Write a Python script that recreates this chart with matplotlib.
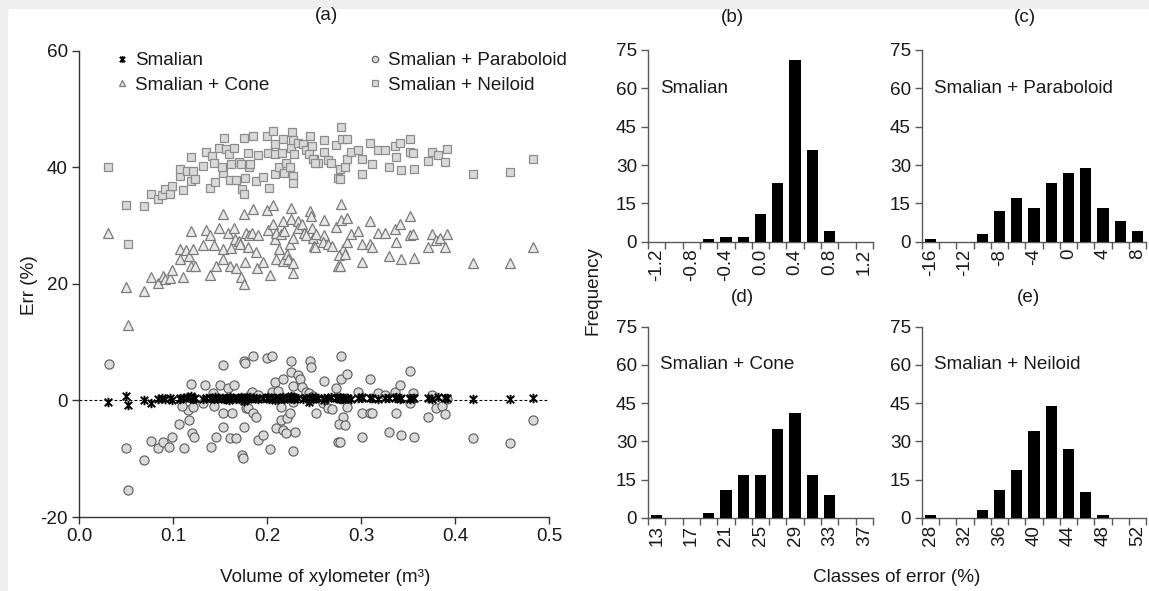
import numpy as np
import matplotlib
matplotlib.use("Agg")
import matplotlib.pyplot as plt
from matplotlib.path import Path
from matplotlib.patches import Rectangle

plt.rcParams['font.family'] = ['Liberation Sans', 'DejaVu Sans']
plt.rcParams['axes.unicode_minus'] = False

# ---------------- data: scatter (a) ----------------
neiloid_x = [0.031,0.050,0.052,0.069,0.077,0.084,0.088,0.092,0.097,0.099,0.107,0.107,0.111,0.115,0.119,0.121,0.119,0.139,0.123,0.132,
             0.135,0.142,0.144,0.149,0.145,0.153,0.154,0.152,0.156,0.160,0.162,0.165,0.161,0.167,0.170,0.173,0.175,0.177,0.176,0.172,
             0.180,0.181,0.185,0.190,0.188,0.182,0.196,0.200,0.202,0.206,0.201,0.209,0.209,0.209,0.213,0.216,0.217,0.218,0.220,0.224,
             0.226,0.227,0.228,0.229,0.228,0.228,0.233,0.238,0.242,0.246,0.248,0.245,0.250,0.254,0.249,0.251,0.261,0.261,0.265,0.268,
             0.273,0.279,0.280,0.285,0.278,0.276,0.278,0.283,0.285,0.289,0.297,0.301,0.301,0.310,0.312,0.318,0.326,0.330,0.336,0.337,
             0.342,0.343,0.352,0.352,0.355,0.356,0.371,0.376,0.382,0.389,0.392,0.419,0.458,0.483]
neiloid_y = [40.0,33.6,26.9,33.4,35.4,34.6,35.3,36.2,35.5,36.8,38.5,39.7,36.1,39.4,37.7,39.4,41.8,36.4,38.0,40.2,
             42.7,42.0,40.8,43.3,37.5,39.0,45.1,40.0,43.2,42.2,40.6,43.3,37.8,37.8,40.9,36.3,35.5,38.2,45.1,40.6,
             42.5,40.0,45.4,42.1,37.7,40.6,38.4,45.4,36.5,46.2,42.5,44.0,42.3,38.9,40.0,42.5,44.9,39.0,40.8,40.0,
             43.3,46.1,44.6,42.2,38.5,37.3,44.2,44.0,43.0,45.4,43.7,42.3,41.4,40.8,41.4,40.8,44.7,42.6,41.3,40.8,
             43.8,46.9,44.9,44.9,39.7,38.2,38.0,40.1,41.4,42.6,43.0,41.4,38.9,44.2,40.6,43.0,43.0,40.1,43.7,41.8,
             44.2,39.5,44.9,42.6,42.5,39.7,41.1,42.6,42.1,40.9,43.2,38.9,39.2,41.4]

smalian_x = neiloid_x
smalian_y = [-0.3,0.7,-0.8,0.0,-0.4,0.3,0.4,0.2,0.4,0.1,0.3,0.5,0.4,0.6,0.5,0.3,0.7,0.4,0.5,0.2,
             0.4,0.5,0.3,0.5,0.6,0.4,0.2,0.5,0.4,0.0,0.5,0.4,0.6,0.3,0.5,0.4,-0.1,0.5,0.4,0.6,
             0.3,0.5,0.4,0.2,0.5,0.6,0.4,0.5,0.3,0.4,0.6,0.5,0.4,0.1,0.5,0.4,0.6,0.3,0.5,0.4,
             0.7,0.5,0.4,0.2,0.6,0.5,0.4,0.3,0.5,0.4,0.6,-0.2,0.4,0.5,0.3,0.4,0.5,0.0,0.4,0.6,
             0.5,0.4,0.3,0.5,0.6,0.4,0.2,0.5,0.4,0.3,0.5,0.4,0.6,0.4,0.5,0.3,0.4,0.5,0.4,0.6,
             0.3,0.5,0.4,0.2,0.5,0.4,0.5,0.3,0.6,0.4,0.5,0.2,0.3,0.5]

cone_x = [0.031,0.050,0.052,0.069,0.077,0.084,0.089,0.091,0.097,0.099,0.107,0.107,0.111,0.114,0.117,0.119,0.123,0.121,0.119,0.132,
          0.135,0.139,0.139,0.144,0.146,0.149,0.153,0.153,0.153,0.158,0.161,0.162,0.165,0.166,0.167,0.170,0.171,0.172,0.175,0.176,
          0.177,0.178,0.180,0.181,0.184,0.185,0.188,0.190,0.189,0.196,0.200,0.201,0.203,0.206,0.206,0.209,0.210,0.210,0.213,0.215,
          0.217,0.217,0.218,0.221,0.222,0.224,0.226,0.226,0.228,0.228,0.228,0.233,0.233,0.237,0.239,0.241,0.246,0.247,0.248,0.249,
          0.250,0.252,0.251,0.261,0.261,0.260,0.265,0.269,0.273,0.279,0.279,0.285,0.281,0.277,0.283,0.275,0.278,0.285,0.289,0.297,
          0.301,0.301,0.310,0.310,0.312,0.318,0.326,0.330,0.336,0.337,0.342,0.343,0.352,0.352,0.355,0.356,0.371,0.376,0.380,0.384,
          0.389,0.392,0.419,0.458,0.483]
cone_y = [28.8,19.5,13.0,18.8,21.2,20.2,21.4,20.9,21.0,22.4,24.3,26.0,21.1,25.8,24.7,23.1,23.0,26.0,29.0,26.7,
          29.3,21.6,28.3,26.7,23.0,29.6,32.0,26.0,24.3,28.8,23.0,26.2,29.5,27.7,22.8,27.4,26.9,21.1,20.0,32.0,
          23.8,28.8,26.4,28.3,28.8,32.9,25.5,28.4,22.8,23.8,32.7,29.3,21.6,33.6,30.3,27.7,28.8,24.3,26.0,28.6,
          30.8,24.0,29.1,25.2,24.3,26.9,33.0,31.2,27.9,23.5,21.9,30.8,29.6,30.3,28.8,28.3,32.5,31.7,29.5,27.9,
          26.5,28.6,26.4,31.0,28.4,27.2,26.9,26.5,29.8,33.7,31.0,31.3,26.0,25.0,25.2,23.1,23.0,27.1,28.6,29.1,
          26.9,23.7,30.7,26.9,26.4,28.8,28.8,24.8,29.4,27.1,30.3,24.3,31.7,28.3,28.6,24.5,26.4,28.6,27.6,27.9,
          26.4,28.6,23.6,23.6,26.4]

parab_x = [0.032,0.050,0.052,0.069,0.077,0.084,0.089,0.096,0.099,0.106,0.112,0.117,0.119,0.120,0.122,0.116,0.110,0.121,0.132,0.134,
           0.140,0.144,0.146,0.143,0.150,0.153,0.153,0.153,0.158,0.163,0.161,0.165,0.167,0.172,0.173,0.174,0.175,0.177,0.175,0.178,
           0.180,0.182,0.184,0.185,0.185,0.188,0.190,0.190,0.196,0.200,0.203,0.205,0.205,0.209,0.210,0.212,0.215,0.215,0.217,0.217,
           0.220,0.221,0.224,0.226,0.226,0.228,0.228,0.228,0.230,0.233,0.235,0.237,0.242,0.246,0.247,0.245,0.249,0.252,0.261,0.260,
           0.265,0.269,0.273,0.279,0.279,0.285,0.281,0.277,0.283,0.275,0.278,0.285,0.297,0.301,0.301,0.310,0.310,0.312,0.318,0.326,
           0.330,0.336,0.337,0.342,0.343,0.352,0.352,0.355,0.356,0.371,0.376,0.380,0.386,0.389,0.392,0.419,0.458,0.483]
parab_y = [6.3,-8.2,-15.3,-10.3,-7.0,-8.2,-7.2,-8.0,-6.3,-4.1,-8.2,-3.3,2.9,-5.6,-6.3,-1.7,-1.0,-1.2,-0.5,2.7,
           -8.0,-0.9,-6.3,1.2,2.7,-4.6,6.0,-2.1,2.1,-2.2,-6.5,2.7,-6.5,0.3,-9.4,-9.9,6.7,6.5,-4.6,-1.3,
           -1.3,0.9,1.4,7.7,-2.1,-2.9,-6.8,0.9,-6.0,7.2,-8.4,7.7,1.4,3.1,-4.8,1.7,-1.2,-3.3,3.6,-5.0,
           -5.6,-3.1,-2.1,6.8,4.8,2.4,-0.3,-8.6,-5.5,4.3,3.6,2.3,1.4,6.8,5.7,1.2,0.7,-2.2,3.4,-0.5,
           -1.3,-1.5,2.2,7.7,3.6,4.5,-2.9,-4.1,-4.3,-7.2,-7.2,-1.2,1.4,-2.1,-6.2,3.6,-2.1,-2.1,1.2,0.9,
           -5.5,1.4,-2.1,2.7,-6.0,5.1,-0.5,1.2,-6.3,-2.9,1.0,-1.3,-1.0,-2.4,0.2,-6.5,-7.3,-3.3]

# ---------------- data: histograms ----------------
b_classes = ["-1.2","-1.0","-0.8","-0.6","-0.4","-0.2","0.0","0.2","0.4","0.6","0.8","1.0","1.2"]
b_freq = [0,0,0,1,2,2,11,23,71,36,4,0,0]
c_classes = ["-16","-14","-12","-10","-8","-6","-4","-2","0","2","4","6","8"]
c_freq = [1,0,0,3,12,17,13,23,27,29,13,8,4]
d_classes = ["13","15","17","19","21","23","25","27","29","31","33","35","37"]
d_freq = [1,0,0,2,11,17,17,35,41,17,9,0,0]
e_classes = ["28","30","32","34","36","38","40","42","44","46","48","50","52"]
e_freq = [1,0,0,3,11,19,34,44,27,10,1,0,0]

W, H = 1149, 591
fig = plt.figure(figsize=(W/100, H/100), dpi=100)
fig.patch.set_facecolor('white')
# light grey frame strips (top and left)
fig.patches.append(Rectangle((0, 1-8/H), 1, 8/H, transform=fig.transFigure, color='#efefef', zorder=-10))
fig.patches.append(Rectangle((0, 0), 7/W, 1, transform=fig.transFigure, color='#efefef', zorder=-10))

def frac(l, t, r, b):
    return [l/W, 1-b/H, (r-l)/W, (b-t)/H]

TXT = '#1a1a1a'
FS = 13.6

# ---- scatter
ax = fig.add_axes(frac(79, 50.7, 549, 517))
for s in ['top', 'right']:
    ax.spines[s].set_visible(False)
for s in ['left', 'bottom']:
    ax.spines[s].set_color('#333333')
    ax.spines[s].set_linewidth(1.0)
ax.set_xlim(0, 0.5)
ax.set_ylim(-20, 60)
ax.set_xticks([0.0, 0.1, 0.2, 0.3, 0.4, 0.5])
ax.set_xticklabels(["0.0", "0.1", "0.2", "0.3", "0.4", "0.5"])
ax.set_yticks([-20, 0, 20, 40, 60])
ax.tick_params(direction='out', length=5, width=1.0, color='#333333', labelsize=FS, labelcolor=TXT, pad=3)
ax.axhline(0, color='black', lw=0.8, ls=(0, (2.5, 2)), zorder=1)

star = Path([(-1, -1), (1, 1), (-1, 1), (1, -1), (0, -1.25), (0, 1.25)],
            [Path.MOVETO, Path.LINETO, Path.MOVETO, Path.LINETO, Path.MOVETO, Path.LINETO])
ms = 6.2
l_ne, = ax.plot(neiloid_x, neiloid_y, ls='none', marker='s', ms=ms, mfc='#d9d9d9', mec='#8c8c8c', mew=0.9, zorder=2)
l_co, = ax.plot(cone_x, cone_y, ls='none', marker='^', ms=ms+0.8, mfc='#e8e8e8', mec='#7a7a7a', mew=0.9, zorder=2)
l_pa, = ax.plot(parab_x, parab_y, ls='none', marker='o', ms=ms+0.4, mfc='#d9d9d9', mec='#5a5a5a', mew=0.8, zorder=3)
l_sm, = ax.plot(smalian_x, smalian_y, ls='none', marker=star, ms=6.8, mfc='none', mec='black', mew=1.4, zorder=4)

legkw = dict(loc='upper left', bbox_transform=fig.transFigure, frameon=False, fontsize=FS,
             markerscale=0.7, handlelength=0.7, handletextpad=0.35, labelspacing=0.38,
             borderpad=0, borderaxespad=0)
leg1 = ax.legend([l_sm, l_co], ["Smalian", "Smalian + Cone"], bbox_to_anchor=(115/W, 1-52/H), **legkw)
for t in leg1.get_texts():
    t.set_color(TXT)
ax.add_artist(leg1)
leg2 = ax.legend([l_pa, l_ne], ["Smalian + Paraboloid", "Smalian + Neiloid"], bbox_to_anchor=(368/W, 1-52/H), **legkw)
for t in leg2.get_texts():
    t.set_color(TXT)

fig.text(327/W, 1-15/H, "(a)", ha='center', va='center', fontsize=FS, color=TXT)
fig.text(30/W, 1-285/H, "Err (%)", ha='center', va='center', rotation=90, fontsize=FS, color=TXT)
fig.text(325/W, 1-578/H, "Volume of xylometer (m³)", ha='center', va='center', fontsize=FS, color=TXT)

# ---- histograms
def hist(rect, classes, freq, label, title, title_xy):
    a = fig.add_axes(rect)
    idx = np.arange(len(classes))
    a.bar(idx, freq, width=0.65, color='black', zorder=3)
    a.set_xlim(-0.5, len(classes)-0.5)
    a.set_ylim(0, 75)
    for s in ['top', 'right']:
        a.spines[s].set_visible(False)
    for s in ['left', 'bottom']:
        a.spines[s].set_color('#595959')
        a.spines[s].set_linewidth(1.0)
    a.set_yticks([0, 15, 30, 45, 60, 75])
    a.set_xticks(np.arange(-0.5, len(classes), 1.0))
    a.set_xticklabels([])
    a.set_xticks(idx[::2], minor=True)
    a.set_xticklabels([classes[i] for i in idx[::2]], minor=True, rotation=90)
    a.tick_params(axis='both', which='major', direction='out', length=5, width=1.0, color='#595959',
                  labelsize=FS, labelcolor=TXT, pad=3)
    a.tick_params(axis='x', which='minor', length=0, labelsize=FS, labelcolor=TXT, pad=5)
    a.text(0.2, 60, label, ha='left', va='center', fontsize=FS, color=TXT)
    fig.text(title_xy[0]/W, 1-title_xy[1]/H, title, ha='center', va='center', fontsize=FS, color=TXT)
    return a

hist(frac(648, 50, 873, 241.7), b_classes, b_freq, "Smalian", "(b)", (732, 18))
hist(frac(922, 50, 1146, 241.7), c_classes, c_freq, "Smalian + Paraboloid", "(c)", (1025, 18))
hist(frac(648, 326.7, 873, 518), d_classes, d_freq, "Smalian + Cone", "(d)", (742, 298))
hist(frac(922, 326.7, 1146, 518), e_classes, e_freq, "Smalian + Neiloid", "(e)", (1029, 298))

fig.text(593/W, 1-290/H, "Frequency", ha='center', va='center', rotation=90, fontsize=FS, color=TXT)
fig.text(897/W, 1-578/H, "Classes of error (%)", ha='center', va='center', fontsize=FS, color=TXT)

fig.savefig("out.png", dpi=100, facecolor='white')
